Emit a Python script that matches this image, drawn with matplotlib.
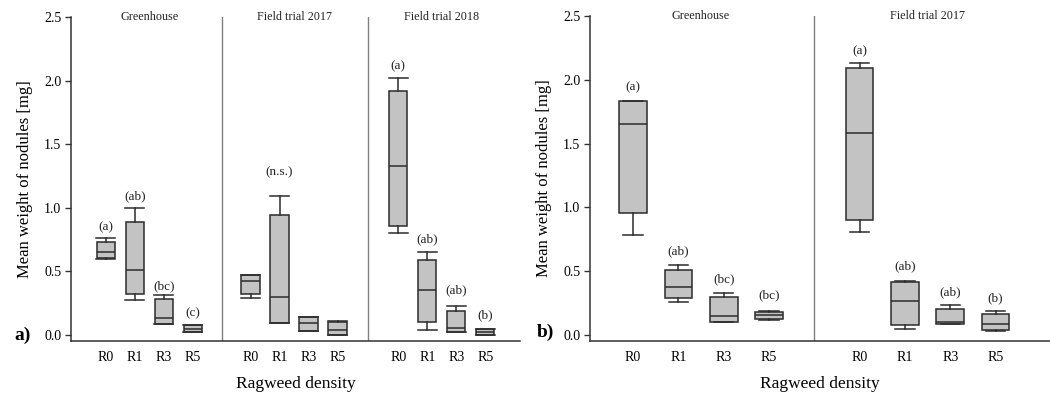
import matplotlib
matplotlib.use("Agg")
import matplotlib.pyplot as plt

categories = ["R0", "R1", "R3", "R5"]

# Panel a) groups
a_groups = ["Greenhouse", "Field trial 2017", "Field trial 2018"]
# each: whislo, q1, med, q3, whishi
a_whislo = [[0.60, 0.275, 0.085, 0.025], [0.29, 0.095, 0.035, 0.0], [0.80, 0.04, 0.027, 0.0]]
a_q1 = [[0.605, 0.32, 0.085, 0.025], [0.32, 0.095, 0.035, 0.003], [0.855, 0.105, 0.027, 0.0]]
a_med = [[0.655, 0.51, 0.13, 0.05], [0.425, 0.30, 0.097, 0.04], [1.33, 0.35, 0.055, 0.02]]
a_q3 = [[0.735, 0.89, 0.28, 0.075], [0.47, 0.94, 0.14, 0.10], [1.92, 0.59, 0.19, 0.047]]
a_whishi = [[0.76, 1.0, 0.315, 0.08], [0.475, 1.09, 0.14, 0.11], [2.02, 0.65, 0.23, 0.047]]
a_letters = [["(a)", "(ab)", "(bc)", "(c)"], ["", "(n.s.)", "", ""], ["(a)", "(ab)", "(ab)", "(b)"]]
a_letter_y = [[0.85, 1.09, 0.38, 0.17], [0, 1.28, 0, 0], [2.11, 0.755, 0.35, 0.157]]

# Panel b) groups
b_groups = ["Greenhouse", "Field trial 2017"]
b_whislo = [[0.78, 0.26, 0.10, 0.118], [0.81, 0.05, 0.085, 0.034]]
b_q1 = [[0.96, 0.29, 0.10, 0.126], [0.90, 0.078, 0.086, 0.04]]
b_med = [[1.656, 0.374, 0.146, 0.16], [1.585, 0.267, 0.104, 0.083]]
b_q3 = [[1.83, 0.51, 0.295, 0.18], [2.09, 0.418, 0.204, 0.165]]
b_whishi = [[1.83, 0.55, 0.33, 0.19], [2.13, 0.42, 0.238, 0.19]]
b_letters = [["(a)", "(ab)", "(bc)", "(bc)"], ["(a)", "(ab)", "(ab)", "(b)"]]
b_letter_y = [[1.94, 0.656, 0.437, 0.314], [2.22, 0.54, 0.337, 0.287]]

plt.rcParams['font.family'] = ['Liberation Serif', 'DejaVu Serif']

fig = plt.figure(figsize=(10.5, 3.96), dpi=100)
axA = fig.add_axes([71/1050, 1-341/396, (520-71)/1050, (341-17)/396])
axB = fig.add_axes([590/1050, 1-341/396, (1050-590)/1050, (341-16)/396])

FILL = "#c3c3c3"
EDGE = "#2b2b2b"
DIV = "#808080"


def draw(ax, groups, whislo, q1, med, q3, whishi, letters, letter_y, starts, dividers, xlim, width, capw):
    positions = []
    labels = []
    stats = []
    for g in range(len(groups)):
        for i, c in enumerate(categories):
            positions.append(starts[g] + i)
            labels.append(c)
            stats.append(dict(whislo=whislo[g][i], q1=q1[g][i], med=med[g][i],
                              q3=q3[g][i], whishi=whishi[g][i], fliers=[]))
    ax.bxp(stats, positions=positions, widths=width, patch_artist=True,
           showfliers=False, manage_ticks=False,
           boxprops=dict(facecolor=FILL, edgecolor=EDGE, linewidth=1.1),
           medianprops=dict(color=EDGE, linewidth=1.1),
           whiskerprops=dict(color=EDGE, linewidth=1.1),
           capprops=dict(color=EDGE, linewidth=1.1),
           capwidths=capw)
    for g in range(len(groups)):
        for i in range(len(categories)):
            if letters[g][i]:
                ax.text(starts[g] + i, letter_y[g][i], letters[g][i], ha="center",
                        va="center", fontsize=9.5, color="#222222")
        ax.text(starts[g] + 1.5, 2.5, groups[g], ha="center", va="center",
                fontsize=8.7, color="#222222")
    for d in dividers:
        ax.axvline(d, color=DIV, linewidth=1.0)
    ax.set_xticks(positions)
    ax.set_xticklabels(labels, fontsize=10)
    ax.tick_params(axis="x", length=0, pad=7.5)
    ax.set_xlim(*xlim)
    ax.set_ylim(-0.047, 2.5)
    ax.set_yticks([0.0, 0.5, 1.0, 1.5, 2.0, 2.5])
    ax.set_yticklabels(["0.0", "0.5", "1.0", "1.5", "2.0", "2.5"], fontsize=10)
    ax.tick_params(axis="y", length=4, width=1, color="#333333", pad=3)
    for s in ["top", "right"]:
        ax.spines[s].set_visible(False)
    for s in ["left", "bottom"]:
        ax.spines[s].set_color("#333333")
        ax.spines[s].set_linewidth(1.1)
    ax.set_ylabel("Mean weight of nodules [mg]", fontsize=12, labelpad=8)
    ax.set_xlabel("Ragweed density", fontsize=12.5, labelpad=8)


draw(axA, a_groups, a_whislo, a_q1, a_med, a_q3, a_whishi, a_letters, a_letter_y,
     [0, 5, 10.1], [4.0, 9.05], (-1.2, 14.3), 0.63, 0.66)
draw(axB, b_groups, b_whislo, b_q1, b_med, b_q3, b_whishi, b_letters, b_letter_y,
     [0, 5], [4.0], (-0.95, 9.2), 0.61, 0.43)

fig.text(14/1050, 1-335/396, "a)", fontsize=14, fontweight="bold", ha="left", va="center")
fig.text(537/1050, 1-332/396, "b)", fontsize=14, fontweight="bold", ha="left", va="center")

fig.savefig("out.png", dpi=100)
